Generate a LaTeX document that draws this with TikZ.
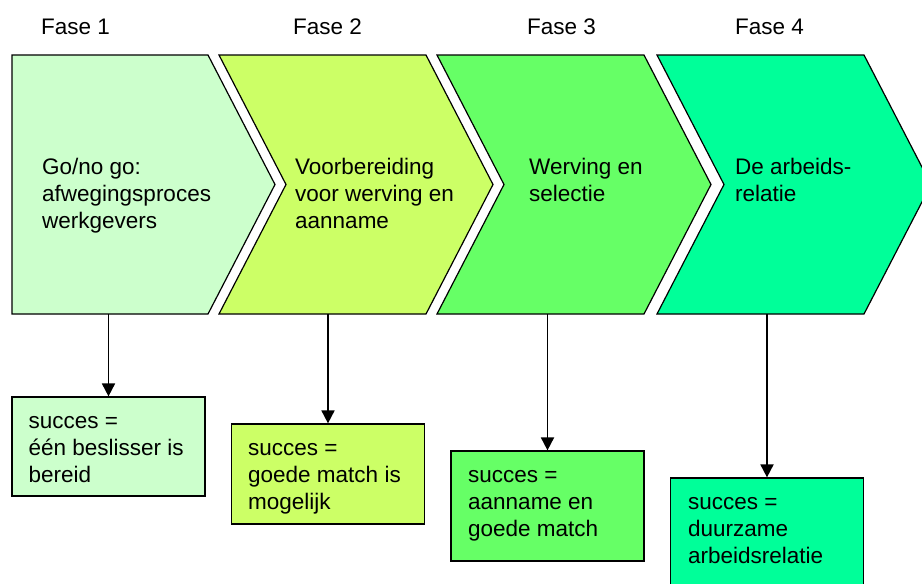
\documentclass[tikz,border=0pt]{standalone}
\usepackage{fontspec}
\setmainfont{Liberation Sans}
\usetikzlibrary{arrows.meta}
\definecolor{fase1}{HTML}{CCFFCC}
\definecolor{fase2}{HTML}{CCFF66}
\definecolor{fase3}{HTML}{66FF66}
\definecolor{fase4}{HTML}{00FF99}
\begin{document}
\begin{tikzpicture}[x=1pt,y=-1pt,
  txt/.style={anchor=base west, inner sep=0pt, align=left, font=\fontsize{22.5}{27}\selectfont},
  chev/.style={draw, line width=1.2pt, line join=miter},
  box/.style={draw, line width=1.2pt, minimum width=193pt, inner sep=0pt},
  arr/.style={-{Triangle[width=13pt,length=13pt]}, line width=1.8pt}]
\useasboundingbox (0,0) rectangle (922,584);

% the four phases
\path[chev, fill=fase1] (12,55) -- (208,55) -- (275,184.5) -- (208,314) -- (12,314) -- cycle;
\path[chev, fill=fase2] (219,55) -- (426,55) -- (493,184.5) -- (426,314) -- (219,314) -- (286,184.5) -- cycle;
\path[chev, fill=fase3] (437,55) -- (644,55) -- (711,184.5) -- (644,314) -- (437,314) -- (504,184.5) -- cycle;
\path[chev, fill=fase4] (657,55) -- (864,55) -- (931,184.5) -- (864,314) -- (657,314) -- (724,184.5) -- cycle;

\node[txt] (fase1) at (41,34) {Fase 1};
\node[txt] (fase2) at (293,34) {Fase 2};
\node[txt] (fase3) at (527,34) {Fase 3};
\node[txt] (fase4) at (735,34) {Fase 4};

% anchored at the last baseline
\node[txt] (t1) at (42,228.5) {Go/no go:\\afwegingsproces\\werkgevers};
\node[txt] (t2) at (295,228.5) {Voorbereiding\\voor werving en\\aanname};
\node[txt] (t3) at (529,201.5) {Werving en\\selectie};
\node[txt] (t4) at (735,201.5) {De arbeids-\\relatie};

\coordinate (f1) at (108.5,314);
\coordinate (f2) at (328,314);
\coordinate (f3) at (547.5,314);
\coordinate (f4) at (767,314);

% success boxes
\node[box, fill=fase1, minimum height=99pt] (b1) at (108.5,446.5) {};
\node[box, fill=fase2, minimum height=100pt] (b2) at (328,474) {};
\node[box, fill=fase3, minimum height=110pt] (b3) at (547.5,506) {};
\node[box, fill=fase4, minimum height=110pt] (b4) at (767,533) {};

\node[txt] (s1) at (28.5,482) {succes =\\één beslisser is\\bereid};
\node[txt] (s2) at (248,509) {succes =\\goede match is\\mogelijk};
\node[txt] (s3) at (468,536) {succes =\\aanname en\\goede match};
\node[txt] (s4) at (688,563) {succes =\\duurzame\\arbeidsrelatie};

\draw[arr] (f1) -- (b1);
\draw[arr] (f2) -- (b2);
\draw[arr] (f3) -- (b3);
\draw[arr] (f4) -- (b4);

\end{tikzpicture}
\end{document}
